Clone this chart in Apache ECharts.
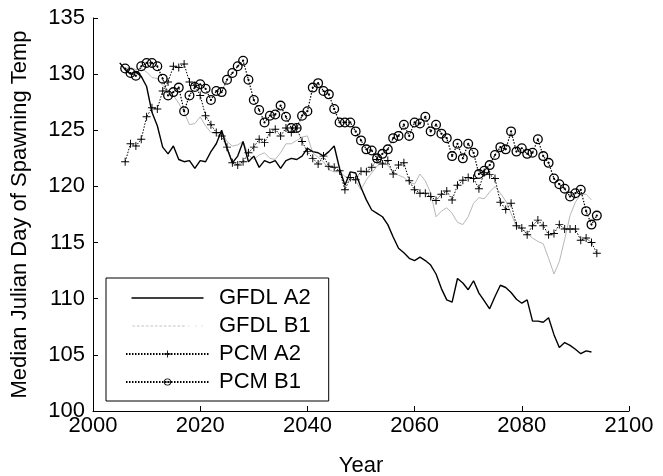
<!DOCTYPE html>
<html><head><meta charset="utf-8">
<script src="https://cdn.jsdelivr.net/npm/echarts@6/dist/echarts.min.js"></script>
<style>html,body{margin:0;padding:0;background:#fff}#c{width:663px;height:476px}</style>
</head><body><div id="c"></div>
<script>
const gfdlStart = 2005;
const pcmStart = 2006;
const xTicks = [2000, 2020, 2040, 2060, 2080, 2100];
const yTicks = [100, 105, 110, 115, 120, 125, 130, 135];
const gfdlA2 = [131.0,130.4,130.0,130.2,129.8,128.9,126.6,125.4,123.5,122.9,
 123.6,122.4,122.2,122.3,121.6,122.3,122.2,123.1,123.8,125.0,
 123.4,122.1,122.7,124.0,122.2,122.7,121.7,122.3,122.1,122.3,
 121.6,122.3,122.5,122.4,122.7,123.4,123.1,123.0,122.7,123.1,
 123.6,121.6,120.1,121.3,121.2,119.9,118.8,117.9,117.6,117.3,
 116.6,115.5,114.5,114.1,113.6,113.4,113.7,113.4,113.0,112.2,
 110.9,109.9,109.7,111.8,111.4,110.8,111.6,110.5,109.8,109.1,
 110.2,111.2,111.0,110.55,109.95,109.6,109.9,108.0,108.0,107.9,
 108.3,106.8,105.65,106.1,105.85,105.5,105.1,105.35,105.25];
const gfdlB1 = [131.0,130.5,130.6,130.4,130.5,130.2,129.7,129.6,129.0,128.6,
 128.1,127.4,126.6,125.5,125.6,126.2,125.4,124.8,124.7,124.9,
 124.0,123.6,123.7,124.0,122.8,122.4,122.8,123.0,122.5,122.4,
 123.0,123.8,123.8,124.1,124.4,124.5,123.0,122.6,122.2,121.5,
 121.3,121.3,120.9,120.7,120.5,119.7,120.6,121.2,121.8,122.2,
 121.9,121.2,121.0,120.8,120.4,120.2,121.1,120.5,119.4,117.3,
 117.8,118.1,117.6,116.8,116.6,117.3,118.5,119.0,118.9,119.5,
 120.0,119.4,118.7,117.6,116.4,116.2,115.8,115.4,115.1,114.9,
 113.6,112.2,113.3,115.3,117.4,118.6,119.3,119.3,118.8];
const pcmA2 = [122.2,123.8,123.6,124.2,126.2,127.0,126.9,128.5,129.3,130.7,
 130.6,130.9,129.3,129.0,128.1,126.3,125.5,124.8,124.5,123.5,
 122.1,121.9,122.2,123.0,123.5,124.2,123.9,124.8,125.1,124.5,
 125.2,124.8,125.2,124.0,123.1,122.5,122.0,122.7,121.8,121.7,
 121.4,119.7,120.8,120.6,121.35,121.3,121.7,122.4,122.0,122.3,
 121.1,121.9,122.1,120.5,119.7,119.4,119.4,119.1,118.75,119.3,
 119.6,118.8,120.1,120.55,120.8,120.7,119.8,121.25,121.05,120.7,
 118.6,117.95,118.5,116.5,116.3,115.7,116.5,117.0,116.5,115.7,
 115.8,116.6,116.2,116.2,116.2,115.2,115.4,115.0,114.05];
const pcmB1 = [130.5,130.1,129.85,130.7,131.0,131.0,130.7,129.6,128.1,128.4,
 128.8,126.7,128.1,128.85,129.1,128.7,127.7,128.5,128.4,129.5,
 130.1,130.7,131.2,129.5,127.7,126.8,125.7,126.3,126.4,127.2,
 126.2,125.2,125.2,126.3,126.7,128.8,129.2,128.5,128.2,126.9,
 125.7,125.7,125.7,124.9,124.1,123.3,123.2,122.5,122.9,123.3,
 124.3,124.5,125.5,124.5,125.7,125.6,126.2,124.9,125.5,124.7,
 124.3,122.7,123.8,122.5,123.8,123.0,121.1,121.4,121.9,122.8,
 123.5,123.3,124.9,123.1,123.4,122.9,123.0,124.2,122.7,122.1,
 120.7,120.2,119.8,119.1,119.4,119.7,117.8,116.6,117.4];

function pairs(start, vals){ return vals.map((v,i)=>[start+i, v]); }

const plusPath = 'path://M4.4,0H5.6V4.4H10V5.6H5.6V10H4.4V5.6H0V4.4H4.4Z';
const ringDot = 'path://M5,0A5,5 0 1,1 5,10A5,5 0 1,1 5,0Z M5,1.3A3.7,3.7 0 1,0 5,8.7A3.7,3.7 0 1,0 5,1.3Z M5,3.9A1.1,1.1 0 1,1 5,6.1A1.1,1.1 0 1,1 5,3.9Z';
const lineIcon = 'path://M0,0M0,10M0,4.2H80V5.8H0Z';
const dotLineIcon = 'path://M0,0M0,10M0,4.5H3V5.5H0Z M5,4.5H8V5.5H5Z M10,4.5H13V5.5H10Z M15,4.5H18V5.5H15Z M20,4.5H23V5.5H20Z M25,4.5H28V5.5H25Z M30,4.5H33V5.5H30Z M35,4.5H38V5.5H35Z M40,4.5H43V5.5H40Z M45,4.5H48V5.5H45Z M50,4.5H53V5.5H50Z M55,4.5H58V5.5H55Z M62,4.5H63V5.5H62Z M70,4.5H71V5.5H70Z M77,4.5H78V5.5H77Z';
const FONT = 'Liberation Sans';
const FS = 22;
const chart = echarts.init(document.getElementById('c'), null, {renderer:'canvas'});
chart.setOption({
  animation:false,
  backgroundColor:'#fff',
  textStyle:{fontFamily:FONT},
  grid:{left:93, right:34, top:18, bottom:65, containLabel:false, outerBoundsMode:'none'},
  xAxis:{type:'value', min:xTicks[0], max:xTicks[xTicks.length-1], interval:20,
    name:'Year', nameLocation:'middle', nameGap:44,
    nameTextStyle:{fontSize:FS, color:'#000', fontFamily:FONT},
    axisLine:{lineStyle:{color:'#000', width:1}},
    axisTick:{inside:true, length:5, lineStyle:{color:'#000'}},
    axisLabel:{fontSize:FS, color:'#000', margin:4, fontFamily:FONT, formatter:(v)=>String(v)},
    splitLine:{show:false}},
  yAxis:{type:'value', min:yTicks[0], max:yTicks[yTicks.length-1], interval:5,
    name:'Median Julian Day of Spawning Temp', nameLocation:'middle', nameGap:62, nameRotate:90,
    nameTextStyle:{fontSize:FS, color:'#000', fontFamily:FONT},
    axisLine:{show:true, lineStyle:{color:'#000', width:1}},
    axisTick:{show:true, inside:true, length:5, lineStyle:{color:'#000'}},
    axisLabel:{fontSize:FS, color:'#000', margin:8, fontFamily:FONT, formatter:(v)=>String(v)},
    splitLine:{show:false}},
  legend:{orient:'vertical', left:106, top:278, itemWidth:83, itemHeight:9, itemGap:6,
    padding:[9,18,8,19], borderColor:'#000', borderWidth:1, backgroundColor:'#fff',
    textStyle:{fontSize:FS, color:'#000', fontFamily:FONT, padding:[0,0,0,5]},
    data:[{name:'GFDL A2', icon:lineIcon},{name:'GFDL B1', icon:dotLineIcon},'PCM A2','PCM B1']},
  series:[
    {name:'GFDL A2', type:'line', data:pairs(gfdlStart, gfdlA2), symbol:'none', showSymbol:false,
      lineStyle:{color:'#000', width:1.4}, itemStyle:{color:'#000'}, z:4},
    {name:'GFDL B1', type:'line', data:pairs(gfdlStart, gfdlB1), symbol:'none', showSymbol:false,
      lineStyle:{color:'#b8b8b8', width:1}, itemStyle:{color:'#c4c4c4'}, z:2},
    {name:'PCM A2', type:'line', data:pairs(pcmStart, pcmA2), symbol:plusPath, symbolSize:8,
      lineStyle:{color:'#000', width:1, type:[1.5,1.5]}, itemStyle:{color:'#000', opacity:1}, z:5},
    {name:'PCM B1', type:'line', data:pairs(pcmStart, pcmB1), symbol:ringDot, symbolSize:10,
      lineStyle:{color:'#000', width:1.2, type:[1.5,1.5]}, itemStyle:{color:'#000', opacity:1}, z:6}
  ]
});
</script></body></html>
